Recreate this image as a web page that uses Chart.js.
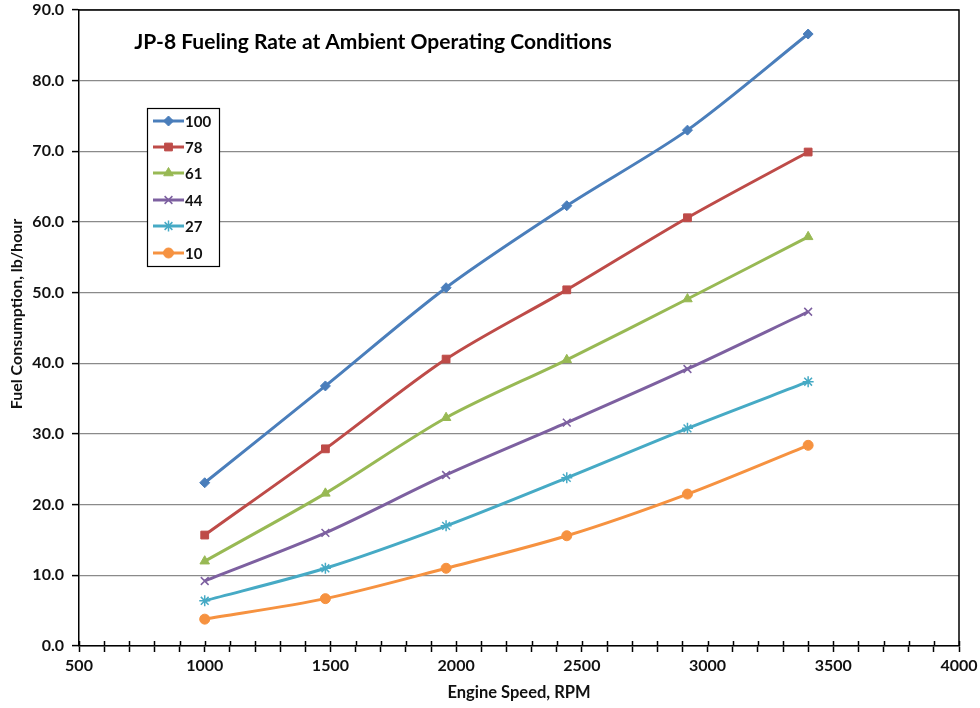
<!DOCTYPE html>
<html><head><meta charset="utf-8">
<script src="https://cdn.jsdelivr.net/npm/chart.js@4/dist/chart.umd.min.js"></script>
<style>html,body{margin:0;padding:0;background:#fff}#wrap{width:980px;height:708px}</style>
</head><body><div id="wrap"><canvas id="c" width="980" height="708"></canvas></div>
<script>
const chartTitle = 'JP-8 Fueling Rate at Ambient Operating Conditions';
const xTitle = 'Engine Speed, RPM';
const yTitle = 'Fuel Consumption, lb/hour';
const rpm = [1000, 1480, 1960, 2440, 2920, 3400];
const seriesNames = ['100', '78', '61', '44', '27', '10'];
const s100 = [23.1, 36.8, 50.7, 62.3, 73.0, 86.6];
const s78  = [15.7, 27.9, 40.6, 50.4, 60.6, 69.9];
const s61  = [12.0, 21.6, 32.3, 40.5, 49.1, 57.9];
const s44  = [9.2, 16.0, 24.2, 31.6, 39.2, 47.3];
const s27  = [6.4, 11.0, 17.0, 23.8, 30.8, 37.4];
const s10  = [3.8, 6.7, 11.0, 15.6, 21.5, 28.4];

const seriesValues = [s100, s78, s61, s44, s27, s10];
const colors = ['#4A7EBB', '#BE4B48', '#98B954', '#7D60A0', '#46AAC5', '#F69240'];
const styles = ['rectRot', 'rect', 'triangle', 'crossRot', 'star', 'circle'];
const radii = [5, 5.5, 5.5, 5.5, 5.5, 5];

const datasets = seriesNames.map((n, i) => ({
  label: n,
  data: rpm.map((x, j) => ({x: x, y: seriesValues[i][j]})),
  borderColor: colors[i],
  backgroundColor: colors[i],
  pointStyle: styles[i],
  pointRadius: radii[i],
  pointBorderWidth: (styles[i] === 'crossRot' || styles[i] === 'star') ? 1.5 : 1,
  pointBorderColor: colors[i],
  pointBackgroundColor: colors[i],
  borderWidth: 3,
  tension: 0.3,
  fill: false
}));

const FONT = 'Lato, "Liberation Sans", sans-serif';

const decor = {
  id: 'decor',
  afterDraw(chart) {
    const ctx = chart.ctx, a = chart.chartArea;
    ctx.save();
    ctx.strokeStyle = '#000'; ctx.lineWidth = 1.5;
    ctx.beginPath();
    ctx.moveTo(a.left, a.top); ctx.lineTo(a.right, a.top); ctx.lineTo(a.right, a.bottom);
    ctx.stroke();
    const xs = chart.scales.x;
    ctx.beginPath();
    xs.ticks.forEach(t => {
      const px = Math.round(xs.getPixelForValue(t.value)) + 0.5;
      ctx.moveTo(px, a.bottom); ctx.lineTo(px, a.bottom - 5);
    });
    ctx.stroke();
    // chart title
    ctx.fillStyle = '#000';
    ctx.font = 'bold 21px ' + FONT;
    ctx.textAlign = 'center'; ctx.textBaseline = 'middle';
    ctx.fillText(chartTitle, 373, 42);
    // y axis title
    ctx.save();
    ctx.translate(17, 314); ctx.rotate(-Math.PI / 2);
    ctx.fillStyle = '#111';
    ctx.font = 'bold 16px ' + FONT;
    ctx.fillText(yTitle, 0, 0);
    ctx.restore();
    // legend
    const lx = 147.5, ly = 108.5, lw = 72, lh = 158;
    ctx.fillStyle = '#fff'; ctx.fillRect(lx, ly, lw, lh);
    ctx.strokeStyle = '#000'; ctx.lineWidth = 1.2; ctx.strokeRect(lx, ly, lw, lh);
    const rows = [121, 147, 173, 200, 226, 253];
    chart.data.datasets.forEach((ds, i) => {
      const y = rows[i];
      ctx.strokeStyle = ds.borderColor; ctx.lineWidth = 3;
      ctx.beginPath(); ctx.moveTo(153, y); ctx.lineTo(184, y); ctx.stroke();
      ctx.fillStyle = ds.backgroundColor; ctx.strokeStyle = ds.borderColor;
      ctx.lineWidth = ds.pointBorderWidth;
      Chart.helpers.drawPoint(ctx, {pointStyle: ds.pointStyle, radius: ds.pointRadius, rotation: 0, borderWidth: ds.pointBorderWidth}, 168.5, y);
      ctx.fillStyle = '#111'; ctx.font = 'bold 15px ' + FONT;
      ctx.textAlign = 'left'; ctx.textBaseline = 'middle';
      ctx.fillText(ds.label, 185, y + 1);
    });
    ctx.restore();
  }
};

new Chart(document.getElementById('c'), {
  type: 'line',
  data: {datasets: datasets},
  options: {
    responsive: false,
    animation: false,
    layout: {padding: {top: 10, right: 21, left: 0, bottom: 0}},
    plugins: {legend: {display: false}, tooltip: {enabled: false}, title: {display: false}},
    scales: {
      x: {
        type: 'linear', min: 500, max: 4000,
        afterFit(s) { s.height = 62; s.paddingLeft = 0; s.paddingRight = 0; },
        grid: {display: true, drawOnChartArea: false, drawTicks: true, tickLength: 6, tickColor: '#000', tickWidth: 1.5},
        border: {display: true, color: '#000', width: 1.5},
        ticks: {stepSize: 100, autoSkip: false, maxRotation: 0, padding: 4, color: '#111',
          font: {family: FONT, size: 16, weight: 'bold'},
          callback: v => (v % 500 === 0 ? String(v) : '')},
        title: {display: true, text: xTitle, color: '#111', font: {family: FONT, size: 16.5, weight: 'bold'}, padding: {top: 0, bottom: 5}}
      },
      y: {
        type: 'linear', min: 0, max: 90,
        afterFit(s) { s.width = 79; s.paddingTop = 0; s.paddingBottom = 0; },
        grid: {display: true, color: '#8a8a8a', lineWidth: 1.2, drawTicks: true, tickLength: 7, tickColor: '#000', tickWidth: 1.5},
        border: {display: true, color: '#000', width: 1.5},
        ticks: {stepSize: 10, padding: 8, color: '#111', font: {family: FONT, size: 16, weight: 'bold'},
          callback: v => Number(v).toFixed(1)},
        title: {display: false}
      }
    }
  },
  plugins: [decor]
});
</script></body></html>
